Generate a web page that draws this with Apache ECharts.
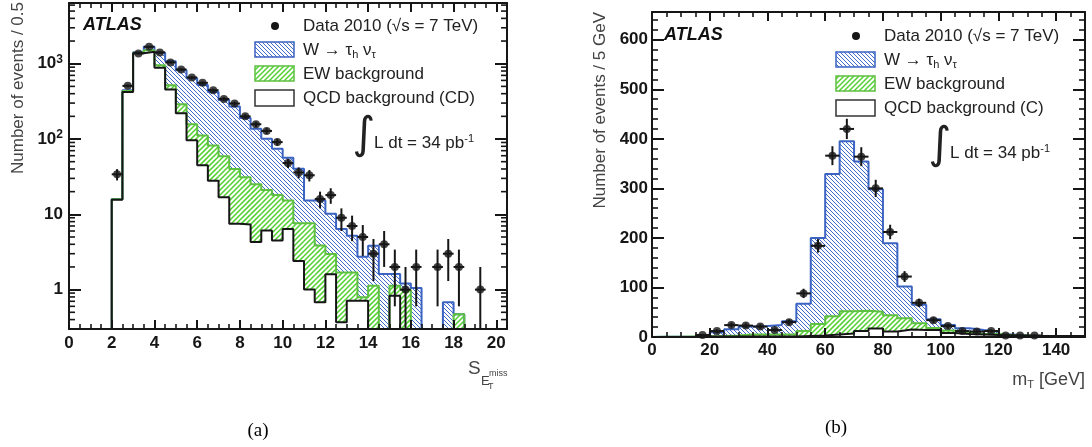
<!DOCTYPE html>
<html><head><meta charset="utf-8">
<script src="https://cdn.jsdelivr.net/npm/echarts@6/dist/echarts.min.js"></script>
<style>html,body{margin:0;padding:0;background:#fff}#c{width:1092px;height:447px}</style>
</head><body><div id="c"></div>
<script>
// ---------- Panel (a): S_{E_T^miss}, 0.5-wide bins starting at 2.0 ----------
const binStartA = 2.0, binWidthA = 0.5;
const dataA = [34, 508, 1371, 1679, 1414, 1040, 840, 657, 557, 445, 341, 296, 200, 157, 128, 91, 48, 36, 33, 16, 18, 9, 7, 5, 3, 4, 2, 1, 2, 0, 2, 3, 2, 0, 1, 0];
const errA  = [5.8, 22.5, 37, 41, 37.6, 32.2, 29, 25.6, 23.6, 21.1, 18.5, 17.2, 14.1, 12.5, 11.3, 9.5, 6.9, 6, 5.7, 4, 4.2, 3, 2.6, 2.2, 1.7, 2, 1.4, 1, 1.4, 0, 1.4, 1.7, 1.4, 0, 1, 0];
const qcdA  = [15.6, 420, 1380, 1445, 883, 455, 220, 96, 44.7, 28, 16.9, 7.5, 7.3, 4.3, 6.1, 4.5, 6.4, 2.4, 1.0, 0.68, 1.6, 0.37, 0.71, 0.71, 0, 0, 0.83, 0, 0, 0, 0, 0, 0, 0, 0, 0];
const ewA   = [0.2, 15, 20, 65, 74, 64, 70, 61, 67, 54, 42, 32.5, 23.7, 20.7, 14.9, 13.5, 8.9, 5.2, 6.6, 3.16, 1.38, 1.32, 0.98, 0.08, 1.13, 0, 0.3, 0.99, 0, 0, 0, 0, 0.47, 0, 0, 0];
const wA    = [0.2, 10, 20, 170, 443, 561, 530, 483, 408, 338, 271, 230, 159, 112, 80, 56.5, 41.2, 32.8, 7.7, 11.5, 7.2, 4.7, 3.5, 1.95, 2.7, 1.61, 0.48, 0.22, 1.05, 0, 0, 0.68, 0, 0, 0, 0];

// ---------- Panel (b): m_T, 5 GeV bins starting at 0 ----------
const binStartB = 0, binWidthB = 5;
const dataB = [0, 0, 0, 4, 12, 24, 23, 21, 14, 30, 88, 184, 366, 420, 364, 300, 212, 122, 69, 34, 22, 12, 11, 12, 3, 3, 3, 0, 0, 0];
const errB  = [0, 0, 0, 2, 3.5, 4.9, 4.8, 4.6, 3.7, 5.5, 9.4, 13.6, 19.1, 20.5, 19.1, 17.3, 14.6, 11, 8.3, 5.8, 4.7, 3.5, 3.3, 3.5, 1.7, 1.7, 1.7, 0, 0, 0];
const qcdB  = [0, 0, 0, 1, 1, 1, 1, 1, 1, 1, 2, 3, 5, 7, 12, 17, 11, 15, 14, 14, 8, 6, 5, 4, 3, 2, 2, 2, 2, 2];
const ewB   = [0.5, 0.5, 1, 0, 1, 2, 4, 4, 4, 4, 10, 23, 37, 45, 41, 34, 33, 23, 14, 4, 5, 3, 1, 2, 1, 1, 0, 0, 0, 0];
const wB    = [0, 0, 0, 2, 7.4, 12.5, 16, 17, 19, 27, 55, 174, 287, 343, 301, 247, 145, 64, 37, 18, 11, 8.5, 8, 5, 1, 0, 0, 0, 0, 0];

// ---------- axis ranges / tick labels ----------
const xMinA = 0, xMaxA = 20.5, yMinA = 0.3, yMaxA = 6400;
const xMinB = 0, xMaxB = 150, yMinB = 0, yMaxB = 656;
const logLabelsA = {1: '1', 10: '10', 100: '{b|10}{s|2}', 1000: '{b|10}{s|3}'};
const logMinorA = [0.4, 0.5, 0.6, 0.7, 0.8, 0.9, 2, 3, 4, 5, 6, 7, 8, 9, 20, 30, 40, 50, 60, 70, 80, 90,
                   200, 300, 400, 500, 600, 700, 800, 900, 2000, 3000, 4000, 5000, 6000];

const FONT = '"Liberation Sans", Arial, Helvetica, sans-serif';
const SERIF = '"Liberation Serif", "Times New Roman", serif';
const INK = '#161616', TXT = '#222', TITLE = '#444';
const BLUE = '#3b63c2', GREEN = '#5ec040';
const HATCH_BLUE = '#4169c9', HATCH_GREEN = '#4fd02c';

// 45-degree hatch lines clipped to a rectangle ("back" = \, otherwise / via mirroring)
function hatchLines(x0, y0, x1, y1, dir, color, s, lw) {
  const out = [];
  const flip = dir !== 'back';
  const X0 = flip ? -x1 : x0, X1 = flip ? -x0 : x1;
  for (let c = Math.ceil((X0 - y1) / s) * s; c <= X1 - y0; c += s) {
    const ya = Math.max(y0, X0 - c), yb = Math.min(y1, X1 - c);
    if (yb > ya) {
      let xa = ya + c, xb = yb + c;
      if (flip) { xa = -xa; xb = -xb; }
      out.push({type: 'line', silent: true, shape: {x1: xa, y1: ya, x2: xb, y2: yb}, style: {stroke: color, lineWidth: lw}});
    }
  }
  return out;
}
const HB = ['back', HATCH_BLUE, 4, 1];
const HG = ['fwd', HATCH_GREEN, 5, 1.5];

function renderBand(h) {
  return function (params, api) {
    const cs = params.coordSys;
    const a = api.coord([api.value(0), api.value(3)]);
    const b = api.coord([api.value(2), api.value(1)]);
    const top = Math.max(a[1], cs.y);
    const bot = Math.min(b[1], cs.y + cs.height);
    if (bot <= top) return null;
    return {type: 'group', children: hatchLines(a[0], top, b[0], bot, h[0], h[1], h[2], h[3])};
  };
}
function renderErr(params, api) {
  const cs = params.coordSys;
  const x = api.value(0), y = api.value(1), e = api.value(2), hw = api.value(3);
  const pt = api.coord([x, y + e]);
  const lowV = y - e;
  let yLow = lowV > 0 ? api.coord([x, lowV])[1] : cs.y + cs.height;
  yLow = Math.min(yLow, cs.y + cs.height);
  const pl = api.coord([x - hw, y]), pr = api.coord([x + hw, y]);
  return {type: 'group', children: [
    {type: 'line', shape: {x1: pt[0], y1: Math.max(pt[1], cs.y), x2: pt[0], y2: yLow}, style: {stroke: INK, lineWidth: 2}},
    {type: 'line', shape: {x1: pl[0], y1: pl[1], x2: pr[0], y2: pr[1]}, style: {stroke: INK, lineWidth: 2}}
  ]};
}
function stairs(start, width, tops, floor) {
  const pts = [[start, floor]];
  tops.forEach((v, i) => pts.push([start + i * width, v > 0 ? v : floor]));
  pts.push([start + tops.length * width, floor]);
  return pts;
}
function panelSeries(xi, yi, start, width, q, e, w, data, err, floor) {
  const n = q.length;
  const qTop = q.slice();
  const gTop = q.map((v, i) => v + e[i]);
  const tTop = gTop.map((v, i) => v + w[i]);
  const greenBands = [], blueBands = [], pts = [], bars = [];
  for (let i = 0; i < n; i++) {
    const lo = start + i * width, hi = lo + width;
    if (e[i] > 0) greenBands.push([lo, qTop[i] > 0 ? qTop[i] : floor, hi, gTop[i]]);
    if (w[i] > 0) blueBands.push([lo, gTop[i] > 0 ? gTop[i] : floor, hi, tTop[i]]);
    if (data[i] > 0) {
      const c = lo + width / 2;
      pts.push([c, data[i]]);
      bars.push([c, data[i], err[i], width / 2]);
    }
  }
  const line = (tops, color) => ({type: 'line', xAxisIndex: xi, yAxisIndex: yi, step: 'end', symbol: 'none',
    data: stairs(start, width, tops, floor), lineStyle: {color: color, width: 2}, z: 3, clip: true, silent: true});
  return [
    {type: 'custom', xAxisIndex: xi, yAxisIndex: yi, renderItem: renderBand(HB), data: blueBands, z: 2, silent: true},
    {type: 'custom', xAxisIndex: xi, yAxisIndex: yi, renderItem: renderBand(HG), data: greenBands, z: 2, silent: true},
    line(tTop, BLUE), line(gTop, GREEN), line(qTop, INK),
    {type: 'custom', xAxisIndex: xi, yAxisIndex: yi, renderItem: renderErr, data: bars, z: 4, silent: true},
    {type: 'scatter', xAxisIndex: xi, yAxisIndex: yi, data: pts, symbol: 'circle', symbolSize: 8, itemStyle: {color: INK}, z: 5, silent: true}
  ];
}

const labelStyle = {fontSize: 17, fontWeight: 'bold', fontFamily: FONT, color: INK};
function axis(o, tickLen, major) {
  return Object.assign({
    type: 'value', z: 10,
    axisLine: {show: major, onZero: false, lineStyle: {color: INK, width: 2}},
    axisTick: {show: true, inside: true, length: tickLen, lineStyle: {color: INK, width: major ? 2 : 1.6}},
    axisLabel: {show: false},
    splitLine: {show: false}, axisPointer: {show: false}
  }, o);
}
const multipleOf = (v, m) => Math.abs(v / m - Math.round(v / m)) < 1e-7;

const xAxes = [
  axis({gridIndex: 0, position: 'bottom', min: xMinA, max: xMaxA, interval: 2,
        axisLabel: Object.assign({show: true, margin: 6, formatter: v => multipleOf(v, 2) ? String(v) : ''}, labelStyle)}, 9, true),
  axis({gridIndex: 0, position: 'bottom', min: xMinA, max: xMaxA, interval: 0.5}, 5, false),
  axis({gridIndex: 0, position: 'top', min: xMinA, max: xMaxA, interval: 2}, 9, true),
  axis({gridIndex: 0, position: 'top', min: xMinA, max: xMaxA, interval: 0.5}, 5, false),
  axis({gridIndex: 1, position: 'bottom', min: xMinB, max: xMaxB, interval: 20,
        axisLabel: Object.assign({show: true, margin: 5, formatter: v => multipleOf(v, 20) ? String(v) : ''}, labelStyle)}, 9, true),
  axis({gridIndex: 1, position: 'bottom', min: xMinB, max: xMaxB, interval: 5}, 5, false),
  axis({gridIndex: 1, position: 'top', min: xMinB, max: xMaxB, interval: 20}, 9, true),
  axis({gridIndex: 1, position: 'top', min: xMinB, max: xMaxB, interval: 5}, 5, false)
];
const logFormatter = v => {
  const l = Math.log10(v), k = Math.round(l);
  if (Math.abs(l - k) > 1e-6) return '';
  return logLabelsA[Math.pow(10, k)] || '';
};
const yAxes = [
  axis({gridIndex: 0, type: 'log', logBase: 10, position: 'left', min: yMinA, max: yMaxA,
        axisLabel: Object.assign({show: true, margin: 6, formatter: logFormatter,
          rich: {b: Object.assign({lineHeight: 20}, labelStyle),
                 s: {fontSize: 12, fontWeight: 'bold', fontFamily: FONT, color: INK, lineHeight: 12, verticalAlign: 'top'}}}, labelStyle)}, 12, true),
  axis({gridIndex: 0, type: 'log', logBase: 10, position: 'right', min: yMinA, max: yMaxA}, 12, true),
  axis({gridIndex: 1, position: 'left', min: yMinB, max: yMaxB, interval: 100,
        axisLabel: Object.assign({show: true, margin: 4, formatter: v => multipleOf(v, 100) ? String(v) : ''}, labelStyle)}, 12, true),
  axis({gridIndex: 1, position: 'left', min: yMinB, max: yMaxB, interval: 20}, 6, false),
  axis({gridIndex: 1, position: 'right', min: yMinB, max: yMaxB, interval: 100}, 12, true),
  axis({gridIndex: 1, position: 'right', min: yMinB, max: yMaxB, interval: 20}, 6, false)
];

const series = []
  .concat(panelSeries(0, 0, binStartA, binWidthA, qcdA, ewA, wA, dataA, errA, 0.01))
  .concat(panelSeries(4, 2, binStartB, binWidthB, qcdB, ewB, wB, dataB, errB, 0));
// log minor ticks on both sides of panel (a)
series.push({type: 'custom', xAxisIndex: 0, yAxisIndex: 0, z: 10, silent: true,
  data: logMinorA.map(v => [xMinA, v]),
  renderItem: (params, api) => {
    const cs = params.coordSys;
    const y = api.coord([api.value(0), api.value(1)])[1];
    const L = cs.x, R = cs.x + cs.width;
    return {type: 'group', children: [
      {type: 'line', shape: {x1: L, y1: y, x2: L + 6, y2: y}, style: {stroke: INK, lineWidth: 1.6}},
      {type: 'line', shape: {x1: R - 6, y1: y, x2: R, y2: y}, style: {stroke: INK, lineWidth: 1.6}}
    ]};
  }});

// ---------- text & legends ----------
const graphic = [];
function txt(x, y, text, o) {
  const el = {type: 'text', x: x, y: y, silent: true, z: 20,
    style: Object.assign({text: text, fill: TXT, fontSize: 17, fontFamily: FONT, align: 'left', verticalAlign: 'middle'}, o || {})};
  graphic.push(el);
  return el;
}
const sub = {fontSize: 11, fontFamily: FONT, fill: TXT, lineHeight: 11, verticalAlign: 'bottom'};
const sup = {fontSize: 11, fontFamily: FONT, fill: TXT, lineHeight: 11, verticalAlign: 'top'};
const nrm = {fontSize: 17, fontFamily: FONT, fill: TXT, lineHeight: 20};
function hatchBox(x, y, w, h, hs, stroke) {
  graphic.push({type: 'group', silent: true, z: 20, children: hatchLines(x, y, x + w, y + h, hs[0], hs[1], hs[2], hs[3])});
  graphic.push({type: 'rect', z: 21, silent: true, shape: {x: x, y: y, width: w, height: h}, style: {fill: 'none', stroke: stroke, lineWidth: 1.5}});
}
function legend(dx, dy, qcdText) {
  txt(83 + dx, 25 + dy, 'ATLAS', {fontSize: 18, fontWeight: 'bold', fontStyle: 'italic', fill: '#111'});
  graphic.push({type: 'circle', z: 20, silent: true, shape: {cx: 275 + dx, cy: 26 + dy, r: 4}, style: {fill: INK}});
  txt(303 + dx, 26 + dy, 'Data 2010 (√s = 7 TeV)');
  hatchBox(255 + dx, 42 + dy, 39, 15, HB, BLUE);
  txt(303 + dx, 50 + dy, '{n|W → τ}{s|h}{n| ν}{s|τ}', {rich: {n: nrm, s: sub}});
  hatchBox(255 + dx, 66 + dy, 39, 15, HG, GREEN);
  txt(303 + dx, 74 + dy, 'EW background');
  graphic.push({type: 'rect', z: 20, silent: true, shape: {x: 255 + dx, y: 90 + dy, width: 39, height: 16}, style: {fill: '#fff', stroke: '#333', lineWidth: 1.5}});
  txt(303 + dx, 98 + dy, qcdText);
}
legend(0, 0, 'QCD background (CD)');
legend(581, 10, 'QCD background (C)');
function lumi(x, y) {
  txt(x, y - 6, '∫', {fontSize: 44, fontFamily: '"DejaVu Sans", sans-serif', align: 'center'});
  txt(x + 10, y, '{n|L dt = 34 pb}{p|-1}', {rich: {n: nrm, p: sup}});
}
lumi(364, 143);
lumi(940, 153);
// axis titles
txt(18, 2, 'Number of events / 0.5', {align: 'right', fill: TITLE}).rotation = Math.PI / 2;
txt(600, 12, 'Number of events / 5 GeV', {align: 'right', fill: TITLE}).rotation = Math.PI / 2;
txt(468, 369, 'S', {fontSize: 19, fill: TITLE});
txt(481, 381, 'E', {fontSize: 13, fill: TITLE});
txt(489, 374, 'miss', {fontSize: 9, fill: TITLE});
txt(488, 387, 'T', {fontSize: 9, fill: TITLE});
txt(1085, 380, '{n|m}{s|T}{n| [GeV]}', {align: 'right', rich: {n: Object.assign({}, nrm, {fontSize: 18, fill: TITLE}), s: Object.assign({}, sub, {fill: TITLE})}});
// captions
txt(258, 431, '(a)', {fontSize: 19, fontFamily: SERIF, fill: '#000', align: 'center'});
txt(836, 428, '(b)', {fontSize: 19, fontFamily: SERIF, fill: '#000', align: 'center'});

const chart = echarts.init(document.getElementById('c'), null, {renderer: 'canvas', width: 1092, height: 447});
chart.setOption({
  animation: false,
  backgroundColor: '#fff',
  grid: [
    {left: 69, top: 3, width: 438, height: 326, containLabel: false, outerBoundsMode: 'none'},
    {left: 652, top: 12, width: 433, height: 325, containLabel: false, outerBoundsMode: 'none'}
  ],
  xAxis: xAxes,
  yAxis: yAxes,
  series: series,
  graphic: {elements: graphic}
});
</script>
</body></html>
